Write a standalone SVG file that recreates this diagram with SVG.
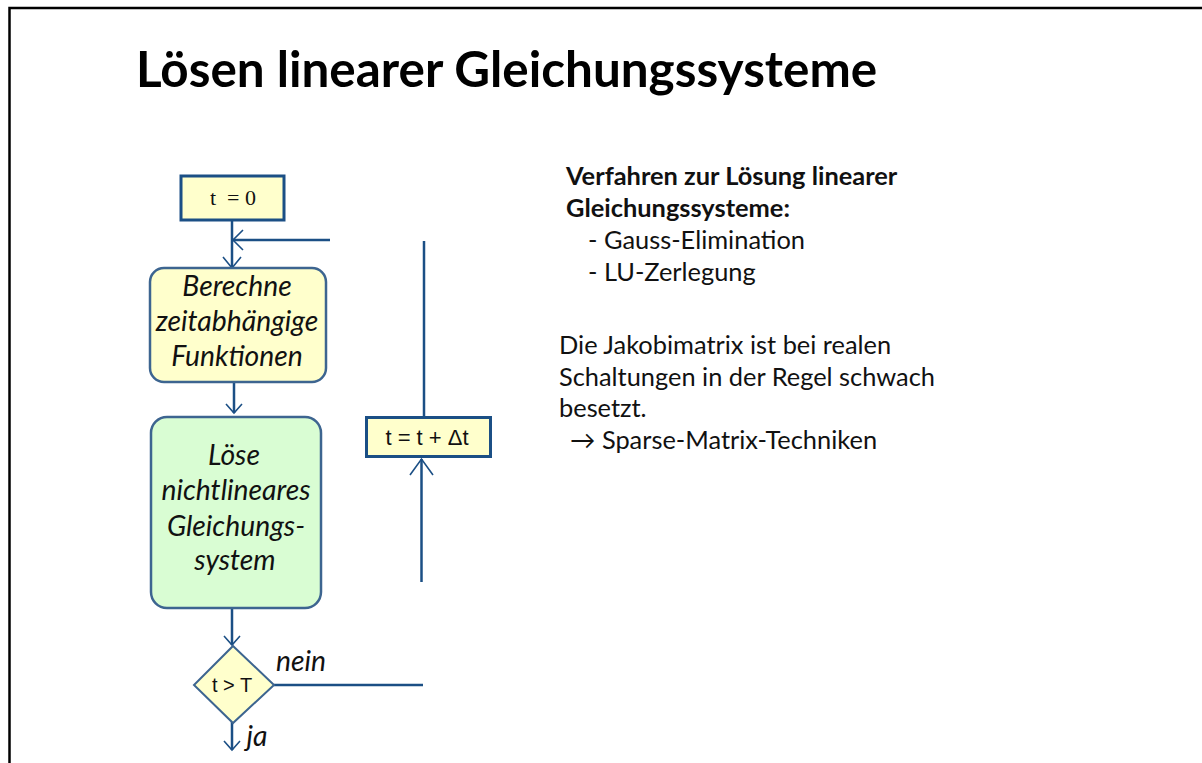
<svg xmlns="http://www.w3.org/2000/svg" width="1202" height="763" viewBox="0 0 1202 763">
<style>
.ttl{font-family:Lato,"Open Sans",sans-serif;font-weight:700;font-size:49.4px;fill:#000}
.bd{font-family:Lato,"Open Sans",sans-serif;font-size:25.4px;fill:#111}
.bb{font-weight:700}
.it{font-family:Lato,"Open Sans",sans-serif;font-style:italic;font-size:28.3px;fill:#111;text-anchor:middle}
.sq{fill:#ffffcc;stroke:#1b4f85;stroke-width:3}
.rn{stroke:#3d6590;stroke-width:2.5}
.cn{fill:none;stroke:#1b4f85;stroke-width:2.5}
.ah{fill:none;stroke:#1b4f85;stroke-width:1.6}
</style>
<rect width="1202" height="763" fill="#fff"/>
<path d="M9.5 763 V8 H1202" fill="none" stroke="#000" stroke-width="2.5"/>
<text class="ttl" x="136" y="87">Lösen linearer Gleichungssysteme</text>

<g id="info">
<text class="bd bb" x="566" y="185">Verfahren zur Lösung linearer</text>
<text class="bd bb" x="566" y="217">Gleichungssysteme:</text>
<text class="bd" x="588" y="249">- Gauss-Elimination</text>
<text class="bd" x="588" y="281">- LU-Zerlegung</text>
<text class="bd" x="559" y="354">Die Jakobimatrix ist bei realen</text>
<text class="bd" x="559" y="386">Schaltungen in der Regel schwach</text>
<text class="bd" x="559" y="417">besetzt.</text>
<text class="bd" x="570" y="449">→ Sparse-Matrix-Techniken</text>
</g>

<g id="connectors">
<path class="cn" d="M232 220 V268"/>
<path class="ah" d="M223 257 L232 268 L241 257"/>
<path class="cn" d="M330 240 H233"/>
<path class="ah" d="M243 230 L233 240 L243 250"/>
<path class="cn" d="M234 382 V413"/>
<path class="ah" d="M226 404 L234 413 L242 404"/>
<path class="cn" d="M232 608 V645"/>
<path class="ah" d="M224 636 L232 645 L240 636"/>
<path class="cn" d="M274 685 H423"/>
<path class="cn" d="M232 722 V750"/>
<path class="ah" d="M224 741 L232 750 L240 741"/>
<path class="cn" d="M421.5 582 V459" stroke-width="3"/>
<path class="ah" d="M410 475 L421.5 459 L433 475"/>
<path class="cn" d="M424 417 V241"/>
</g>

<g id="n-t0">
<rect class="sq" x="181" y="176" width="103" height="44"/>
<text x="233" y="205" font-family="'Liberation Serif',serif" font-size="22" text-anchor="middle" fill="#111" xml:space="preserve">t  = 0</text>
</g>

<g id="n-berechne">
<rect class="rn" x="150" y="268" width="176" height="114" rx="14" fill="#ffffcc"/>
<text class="it" x="237" y="296">Berechne</text>
<text class="it" x="237" y="331">zeitabhängige</text>
<text class="it" x="237" y="366">Funktionen</text>
</g>

<g id="n-loese">
<rect class="rn" x="151" y="417" width="170" height="191" rx="16" fill="#d9fdd3"/>
<text class="it" x="234" y="465">Löse</text>
<text class="it" x="236" y="500">nichtlineares</text>
<text class="it" x="236" y="536">Gleichungs-</text>
<text class="it" x="235" y="570">system</text>
</g>

<g id="n-cond">
<polygon points="233,646 274,685 233,723 194,685" fill="#ffffcc" stroke="#3d6590" stroke-width="2"/>
<text x="232" y="692" font-family="'Liberation Sans',sans-serif" font-size="20" text-anchor="middle" fill="#111">t &gt; T</text>
<text class="it" x="301" y="671">nein</text>
<text class="it" x="257" y="746">ja</text>
</g>

<g id="n-step">
<rect class="sq" x="366.5" y="417.5" width="124" height="39" stroke-width="2.5"/>
<text x="427" y="445" font-family="'Liberation Sans',sans-serif" font-size="22" text-anchor="middle" fill="#111">t = t + Δt</text>
</g>
</svg>
